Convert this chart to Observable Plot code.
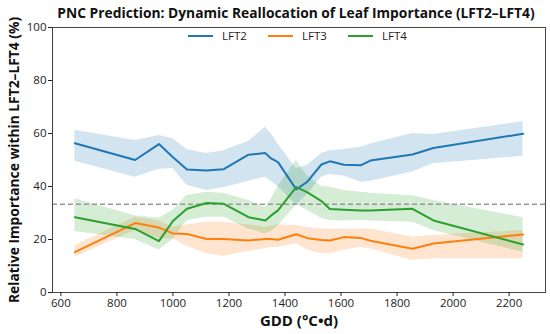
<!DOCTYPE html>
<html>
<head>
<meta charset="utf-8">
<script src="https://cdn.jsdelivr.net/npm/d3@7"></script>
<script src="https://cdn.jsdelivr.net/npm/@observablehq/plot@0.6"></script>
<style>
  html, body { margin: 0; padding: 0; background: #fff; }
  #wrap { position: relative; width: 550px; height: 334px; font-family: "Open Sans", sans-serif; overflow: hidden; }
  #title { position: absolute; top: 3px; left: 0; width: 550px; text-align: center; font-weight: bold; font-size: 13.8px; color: #111; padding-left: 42px; box-sizing: border-box; white-space: nowrap; z-index: 2; }
  #legend { position: absolute; top: 28px; left: 188px; display: flex; font-size: 11.5px; color: #222; z-index: 2; }
  .item { display: flex; align-items: center; width: 80px; }
  .sw { width: 25px; height: 2px; margin-right: 9px; }
  #chart svg { overflow: visible; }
  svg g[aria-label="x-axis label"] text { font-weight: bold; font-size: 15px; fill: #111; }
  svg g[aria-label="y-axis label"] text { font-weight: bold; font-size: 13.8px; fill: #111; }
</style>
</head>
<body>
<div id="wrap">
  <div id="chart"></div>
  <div id="title"></div>
  <div id="legend"></div>
</div>
<script>
const titleText = "PNC Prediction: Dynamic Reallocation of Leaf Importance (LFT2–LFT4)";
const xLabel = "GDD (°C•d)";
const yLabel = "Relative Importance within LFT2–LFT4 (%)";
const seriesNames = ["LFT2", "LFT3", "LFT4"];
const seriesColors = ["#1f77b4", "#ff7f0e", "#2ca02c"];
const xTicks = [600, 800, 1000, 1200, 1400, 1600, 1800, 2000, 2200];
const yTicks = [0, 20, 40, 60, 80, 100];
const equalShare = 33.33;

const gdd     = [650, 865, 950, 1000, 1050, 1120, 1180, 1270, 1330, 1350, 1375, 1440, 1480, 1530, 1560, 1610, 1670, 1705, 1855, 1930, 2250];
const lft2    = [56.3, 50.0, 56.0, 51.0, 46.4, 46.0, 46.5, 52.0, 52.6, 50.6, 49.2, 38.9, 41.8, 48.3, 49.5, 48.2, 48.0, 49.8, 52.1, 54.5, 59.9];
const lft2Lo  = [49.5, 43.5, 46.5, 46.8, 40.5, 38.5, 39.5, 42.0, 43.5, 42.0, 40.0, 33.0, 37.0, 43.5, 44.5, 44.0, 41.6, 42.0, 45.5, 48.6, 51.4];
const lft2Hi  = [61.2, 57.4, 59.2, 58.0, 54.0, 52.5, 53.5, 57.0, 62.4, 60.0, 56.0, 46.7, 48.0, 52.5, 53.5, 54.0, 54.8, 56.0, 60.0, 59.6, 64.5];
const lft3    = [15.2, 26.2, 24.5, 22.3, 22.1, 20.2, 20.2, 19.6, 20.2, 20.2, 19.9, 22.0, 20.5, 19.8, 19.6, 20.9, 20.6, 19.5, 16.5, 18.5, 21.9];
const lft3Lo  = [13.3, 23.4, 20.5, 20.2, 17.5, 14.6, 13.6, 15.5, 16.5, 17.0, 17.0, 18.4, 16.0, 14.6, 14.6, 16.0, 17.1, 16.5, 12.1, 12.7, 12.7];
const lft3Hi  = [17.7, 28.4, 27.0, 24.6, 25.5, 26.5, 26.5, 25.5, 24.6, 25.0, 25.5, 25.3, 24.5, 24.0, 24.0, 24.0, 24.0, 24.0, 20.9, 21.5, 23.4];
const lft4    = [28.4, 24.0, 19.4, 27.0, 31.6, 33.8, 33.5, 28.4, 27.2, 29.0, 31.0, 39.8, 37.8, 34.5, 31.5, 31.2, 30.9, 30.9, 31.6, 27.2, 18.1];
const lft4Lo  = [23.0, 20.0, 16.0, 20.0, 27.2, 28.4, 28.5, 24.0, 22.1, 23.0, 25.0, 33.0, 31.0, 28.0, 27.2, 27.0, 27.2, 27.0, 26.5, 23.4, 15.2];
const lft4Hi  = [35.4, 29.0, 28.0, 31.0, 36.6, 37.8, 37.5, 34.7, 32.2, 35.0, 40.0, 49.8, 44.0, 40.0, 39.7, 38.5, 37.8, 37.5, 36.5, 34.7, 28.2];

const vals = [lft2, lft3, lft4], los = [lft2Lo, lft3Lo, lft4Lo], his = [lft2Hi, lft3Hi, lft4Hi];
const rows = [];
seriesNames.forEach((s, i) => gdd.forEach((g, j) => rows.push({series: s, gdd: g, v: vals[i][j], lo: los[i][j], hi: his[i][j]})));

document.getElementById("title").textContent = titleText;
const legend = document.getElementById("legend");
seriesNames.forEach((s, i) => {
  const it = document.createElement("div"); it.className = "item";
  const sw = document.createElement("div"); sw.className = "sw"; sw.style.background = seriesColors[i];
  const tx = document.createElement("span"); tx.textContent = s;
  it.appendChild(sw); it.appendChild(tx); legend.appendChild(it);
});

const color = {domain: seriesNames, range: seriesColors};
const chart = Plot.plot({
  width: 550, height: 334,
  marginTop: 27, marginLeft: 52, marginRight: 5, marginBottom: 42,
  style: {fontFamily: "Open Sans, sans-serif", fontSize: "11.5px", color: "#222", background: "#fff", overflow: "visible"},
  x: {domain: [570, 2330]},
  y: {domain: [0, 100]},
  color,
  marks: [
    Plot.areaY(rows, {x: "gdd", y1: "lo", y2: "hi", z: "series", fill: "series", fillOpacity: 0.2}),
    Plot.ruleY([equalShare], {stroke: "#999", strokeWidth: 1.4, strokeDasharray: "5,3"}),
    Plot.line(rows, {x: "gdd", y: "v", z: "series", stroke: "series", strokeWidth: 2}),
    Plot.frame({stroke: "#444", strokeWidth: 1}),
    Plot.axisX({ticks: xTicks, tickFormat: d => String(d), tickSize: 4, tickPadding: 2, label: xLabel, labelAnchor: "center", labelArrow: "none", labelOffset: 33}),
    Plot.axisY({ticks: yTicks, tickFormat: d => String(d), tickSize: 4, tickPadding: 2, label: yLabel, labelAnchor: "center", labelArrow: "none", labelOffset: 43})
  ]
});
document.getElementById("chart").appendChild(chart);
</script>
</body>
</html>
